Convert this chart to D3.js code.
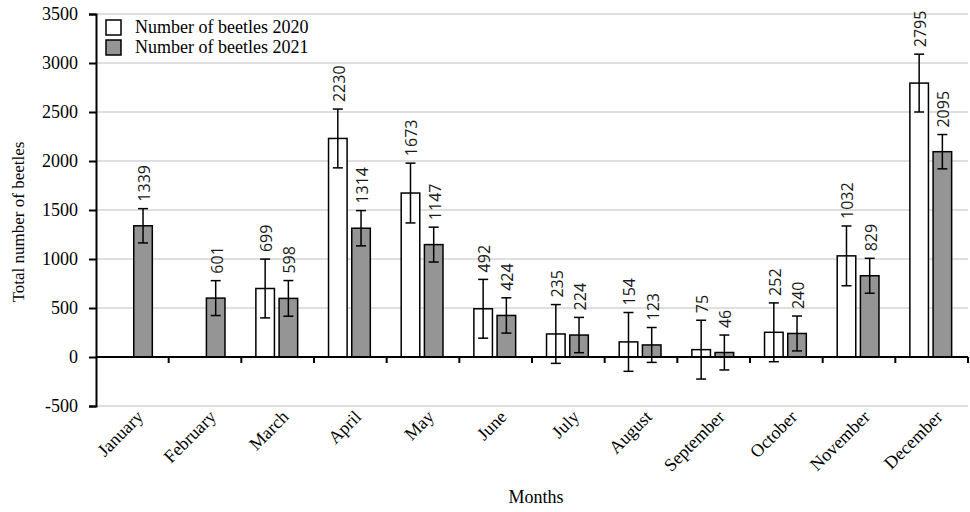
<!DOCTYPE html>
<meta charset="utf-8">
<head>
<title>Beetles per month</title>
<style>
  body { margin: 0; background: #fff; }
</style>
</head>
<body>
<div id="chart"></div>
<script src="https://d3js.org/d3.v7.min.js"></script>
<script>

// the data
var months = ["January", "February", "March", "April", "May", "June", "July",
              "August", "September", "October", "November", "December"];
var series = ["Number of beetles 2020", "Number of beetles 2021"];
var beetles2020 = [null, null, 699, 2230, 1673, 492, 235, 154, 75, 252, 1032, 2795];
var beetles2021 = [1339, 601, 598, 1314, 1147, 424, 224, 123, 46, 240, 829, 2095];
var err2020 = [null, null, 300, 300, 305, 300, 300, 300, 300, 300, 305, 295];
var err2021 = [175, 178, 182, 180, 178, 180, 180, 178, 178, 178, 178, 175];
var yTicks = [-500, 0, 500, 1000, 1500, 2000, 2500, 3000, 3500];

var serif = "Liberation Serif, Times New Roman, serif";
var W = 970, H = 512;
var margin = {top: 14, right: 2, bottom: 106, left: 96};
var width = W - margin.left - margin.right,
    height = H - margin.top - margin.bottom;

var svg = d3.select("#chart").append("svg")
    .attr("width", W)
    .attr("height", H)
  .append("g")
    .attr("transform", "translate(" + margin.left + "," + margin.top + ")");

var x = d3.scaleBand().domain(months).range([0, width]);
var x1 = d3.scaleBand().domain(series)
    .range([x.bandwidth() * 0.2, x.bandwidth() * 0.775])
    .paddingInner(0.2);
var y = d3.scaleLinear().domain([-500, 3500]).range([height, 0]);

var fills = ["#ffffff", "#959595"];

// grid lines
svg.append("g")
  .selectAll("line")
  .data(yTicks)
  .enter().append("line")
    .attr("x1", 0).attr("x2", width)
    .attr("y1", d => y(d)).attr("y2", d => y(d))
    .style("stroke", "#d4d4d4")
    .style("stroke-width", 1.5);

// y axis
var yAxis = svg.append("g")
    .call(d3.axisLeft(y).tickValues(yTicks).tickSize(7).tickPadding(11).tickFormat(d => String(d)));
yAxis.select(".domain").style("stroke", "#000").style("stroke-width", 2);
yAxis.selectAll(".tick line").style("stroke", "#000").style("stroke-width", 2);
yAxis.selectAll("text")
    .attr("font-family", serif)
    .attr("font-size", 18)
    .style("fill", "#000");

// rows for the bars
var rows = [];
months.forEach(function(m, i) {
  rows.push({month: m, s: series[0], v: beetles2020[i], e: err2020[i], k: 0});
  rows.push({month: m, s: series[1], v: beetles2021[i], e: err2021[i], k: 1});
});
rows = rows.filter(d => d.v != null);

// bars
svg.append("g")
  .selectAll("rect")
  .data(rows)
  .enter().append("rect")
    .attr("x", d => x(d.month) + x1(d.s))
    .attr("width", x1.bandwidth())
    .attr("y", d => y(Math.max(0, d.v)))
    .attr("height", d => Math.abs(y(d.v) - y(0)))
    .style("fill", d => fills[d.k])
    .style("stroke", "#000")
    .style("stroke-width", 1.5);

// zero line with ticks between months
svg.append("line")
    .attr("x1", 0).attr("x2", width)
    .attr("y1", y(0)).attr("y2", y(0))
    .style("stroke", "#000").style("stroke-width", 2);
svg.append("g")
  .selectAll("line")
  .data(months.slice(1).concat(["end"]))
  .enter().append("line")
    .attr("x1", d => d === "end" ? width : x(d))
    .attr("x2", d => d === "end" ? width : x(d))
    .attr("y1", y(0)).attr("y2", y(0) + 6)
    .style("stroke", "#000").style("stroke-width", 2);

// error bars
var eb = svg.append("g").selectAll("g")
  .data(rows)
  .enter().append("g")
    .attr("transform", d => "translate(" + (x(d.month) + x1(d.s) + x1.bandwidth() / 2) + ",0)");
eb.append("line")
    .attr("y1", d => y(d.v + d.e)).attr("y2", d => y(d.v - d.e))
    .style("stroke", "#000").style("stroke-width", 1.5);
eb.append("line")
    .attr("x1", -5).attr("x2", 5)
    .attr("y1", d => y(d.v + d.e)).attr("y2", d => y(d.v + d.e))
    .style("stroke", "#000").style("stroke-width", 1.5);
eb.append("line")
    .attr("x1", -5).attr("x2", 5)
    .attr("y1", d => y(d.v - d.e)).attr("y2", d => y(d.v - d.e))
    .style("stroke", "#000").style("stroke-width", 1.5);

// value labels
eb.append("text")
    .attr("transform", d => "translate(1," + (y(d.v + d.e) - 7) + ") rotate(-90)")
    .attr("dominant-baseline", "central")
    .style("text-anchor", "start")
    .style("font-family", "Open Sans, DejaVu Sans, sans-serif")
    .style("font-size", "16px")
    .style("fill", "#1a1a1a")
    .text(d => d.v);

// month labels
svg.append("g")
  .selectAll("text")
  .data(months)
  .enter().append("text")
    .attr("transform", d => "translate(" + (x(d) + x.bandwidth() / 2 + 12) + "," + (height + 12) + ") rotate(-45)")
    .style("text-anchor", "end")
    .style("font-family", serif)
    .style("font-size", "18px")
    .text(d => d);

// axis titles
svg.append("text")
    .attr("x", width / 2 + 4)
    .attr("y", H - margin.top - 9)
    .style("text-anchor", "middle")
    .style("font-family", serif)
    .style("font-size", "18px")
    .text("Months");
svg.append("text")
    .attr("transform", "translate(" + (-72) + "," + (y(1500) + 12) + ") rotate(-90)")
    .style("text-anchor", "middle")
    .style("font-family", serif)
    .style("font-size", "17px")
    .text("Total number of beetles");

// legend
var legend = svg.append("g")
  .selectAll("g")
  .data(series)
  .enter().append("g")
    .attr("transform", (d, i) => "translate(10," + (6 + i * 20) + ")");
legend.append("rect")
    .attr("width", 15).attr("height", 15)
    .style("fill", (d, i) => fills[i])
    .style("stroke", "#000").style("stroke-width", 1.5);
legend.append("text")
    .attr("x", 29).attr("y", 13)
    .style("font-family", serif)
    .style("font-size", "18px")
    .text(d => d);

</script>
</body>
